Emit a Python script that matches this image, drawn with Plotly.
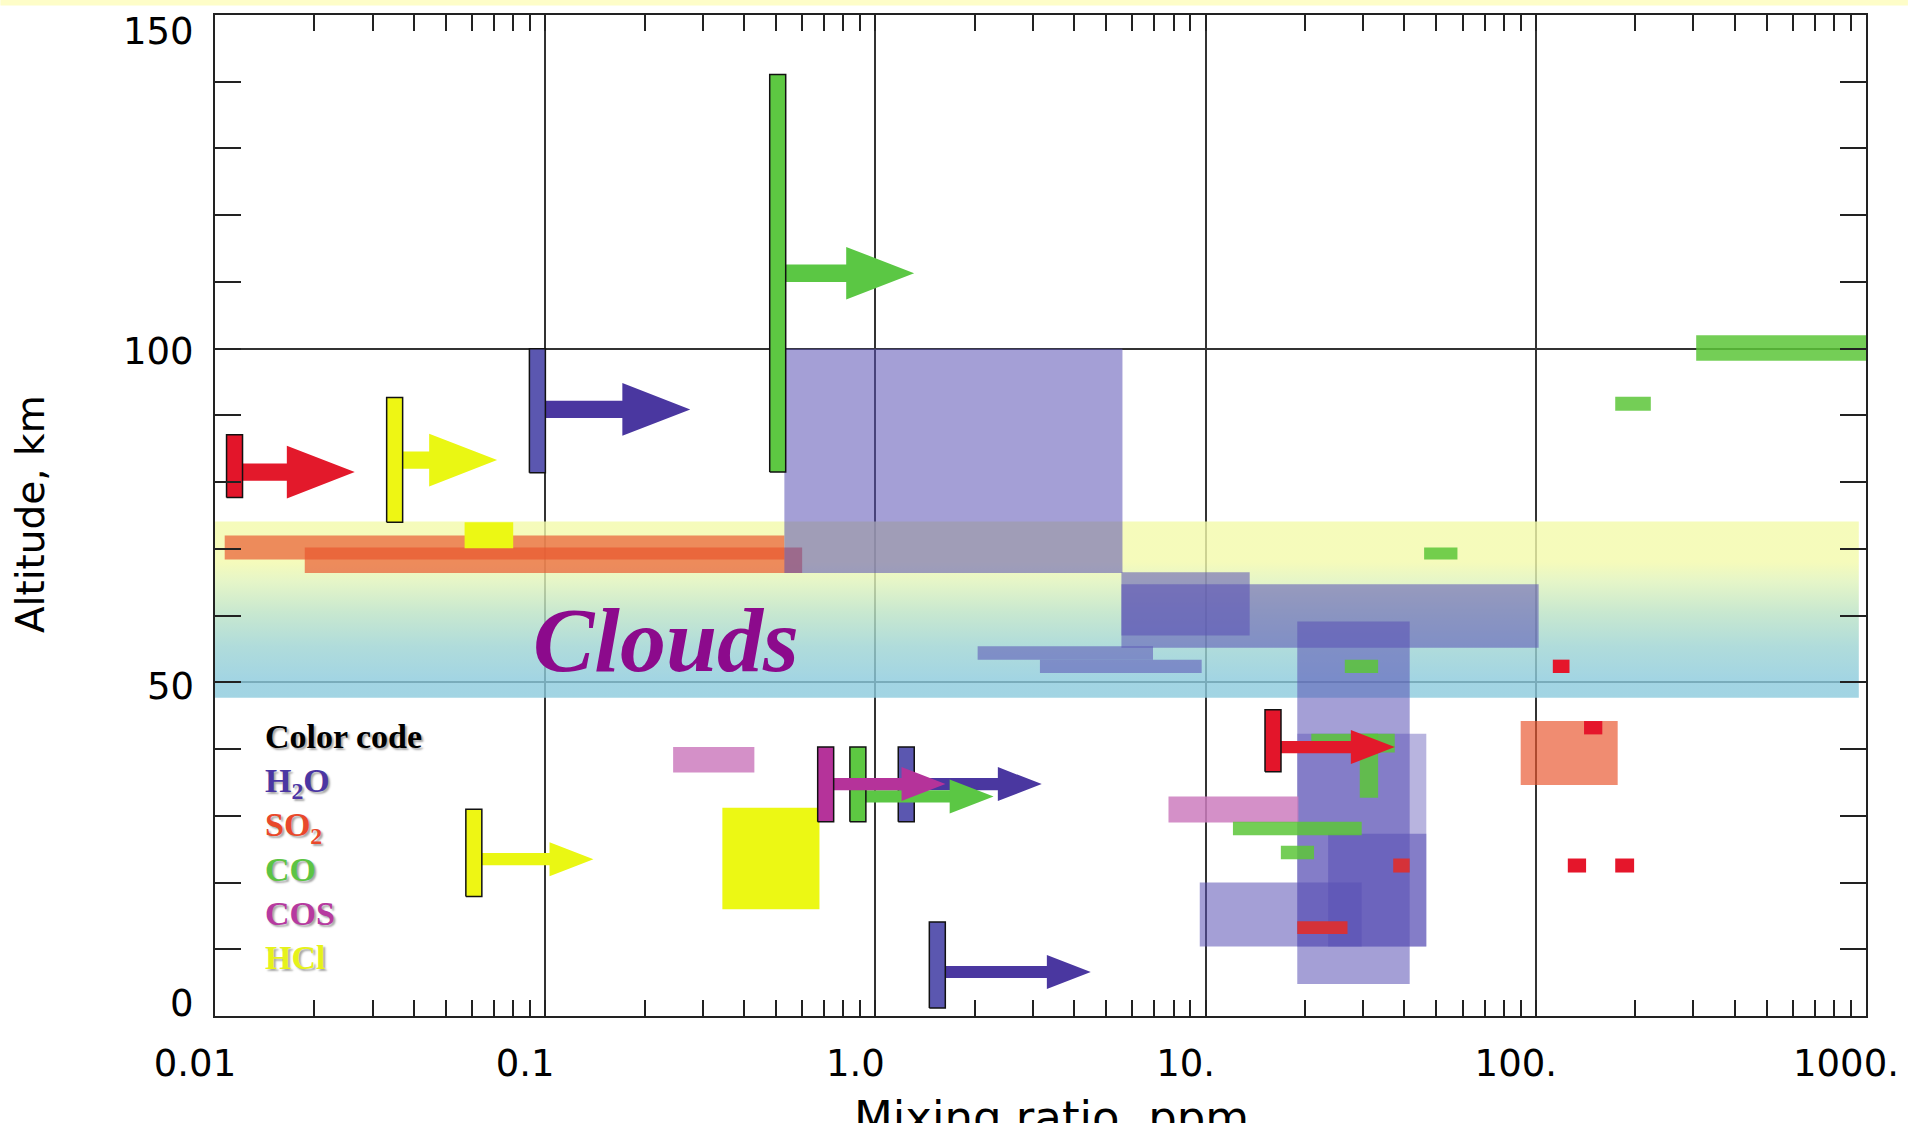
import math
import plotly.graph_objects as go

# ---------------- DATA ----------------
# Measured ranges drawn as boxes: species, mixing ratio range (ppm), altitude range (km)
box_species = ["SO2", "SO2", "HCl",
               "H2O", "H2O", "H2O", "H2O", "H2O",
               "H2O", "H2O_faint", "H2O", "H2O",
               "SO2", "COS", "COS", "HCl",
               "CO", "CO", "CO", "CO", "CO", "CO", "CO", "CO",
               "SO2_pt", "SO2_pt", "SO2_pt", "SO2_pt", "SO2_pt_dark", "SO2_pt_dark"]
box_x_min = [0.0107, 0.0187, 0.057,
             0.53, 5.56, 5.56, 2.04, 3.15,
             18.95, 18.95, 23.5, 9.6,
             90, 0.244, 7.72, 0.344,
             306, 174, 45.9, 26.4, 20.9, 29.3, 12.1, 16.9,
             112.6, 140, 125, 174, 37.0, 18.95]
box_x_max = [0.53, 0.60, 0.080,
             5.6, 13.6, 102, 6.93, 9.73,
             41.5, 46.6, 46.6, 29.7,
             177, 0.43, 19.1, 0.677,
             1050, 223, 57.9, 33.3, 37.4, 33.3, 29.7, 21.3,
             126.5, 159, 142, 198.5, 41.5, 26.9]
box_z_min = [68.4, 66.4, 70.1,
             66.4, 57.0, 55.2, 53.4, 51.4,
             4.8, 10.4, 10.4, 10.4,
             34.6, 36.5, 29.0, 16.0,
             98.2, 90.7, 68.4, 51.4, 39.5, 32.7, 27.1, 23.5,
             51.4, 42.2, 21.5, 21.5, 21.5, 12.3]
box_z_max = [72.0, 70.2, 74.0,
             100.0, 66.5, 64.7, 55.4, 53.4,
             59.1, 42.3, 27.3, 20.0,
             44.2, 40.3, 32.9, 31.2,
             102.0, 92.8, 70.2, 53.4, 42.3, 42.3, 29.1, 25.5,
             53.4, 44.2, 23.6, 23.6, 23.6, 14.2]

# Lower limits: bar over an altitude range, arrow pointing to larger mixing ratios
lim_species = ["SO2", "HCl", "H2O", "CO", "HCl", "H2O", "CO", "COS", "H2O", "SO2"]
lim_x = [0.01146, 0.035, 0.0947, 0.506, 0.0608, 1.24, 0.885, 0.707, 1.54, 16.0]
lim_z_min = [77.7, 74.0, 81.4, 81.5, 17.9, 29.1, 29.1, 29.1, 1.2, 36.6]
lim_z_max = [87.1, 92.7, 100.0, 141.1, 31.0, 40.3, 40.3, 40.3, 14.1, 45.9]
lim_z_arrow = [81.5, 83.3, 90.9, 111.3, 23.5, 34.75, 32.9, 34.75, 6.6, 40.3]
lim_x_arrow = [0.0265, 0.0715, 0.275, 1.31, 0.140, 3.19, 2.28, 1.63, 4.49, 37.4]

# Cloud layer
cloud_x = [0.0096, 951.0]
cloud_z = [47.7, 74.1]

# Axis ticks
x_tick_vals = [0.01, 0.1, 1.0, 10.0, 100.0, 1000.0]
x_tick_text = ["0.01", "0.1", "1.0", "10.", "100.", "1000."]
y_tick_vals = [0, 50, 100, 150]
y_tick_text = ["0", "50", "100", "150"]

legend_species = ["H2O", "SO2", "CO", "COS", "HCl"]
legend_labels = ["H<sub>2</sub>O", "SO<sub>2</sub>", "CO", "COS", "HCl"]

# ---------------- STYLE ----------------
box_fill = {"SO2": "rgba(233,85,45,0.68)", "HCl": "#ECF814",
            "H2O": "rgba(90,80,180,0.55)", "H2O_faint": "rgba(90,80,180,0.43)",
            "CO": "rgba(92,198,56,0.85)", "COS": "rgba(204,124,190,0.85)",
            "SO2_pt": "#E5162B", "SO2_pt_dark": "#D53239"}
bar_fill = {"SO2": "#E3152A", "HCl": "#EEF614", "H2O": "#5B57B0",
            "CO": "#5DC842", "COS": "#B5339A"}
arrow_fill = {"SO2": "#E3192B", "HCl": "#EAF713", "H2O": "#4A37A0",
              "CO": "#5BC744", "COS": "#B5339A"}
legend_color = {"H2O": "#4B36A3", "SO2": "#E9482B", "CO": "#5CC444",
                "COS": "#B63AA0", "HCl": "#E6F21A"}
lim_size = ["big", "big", "big", "big", "small", "small", "small", "small", "small", "small"]
arrow_geom = {"big": dict(head=0.2057, head_half=3.95, shaft_half=1.3),
              "small": dict(head=0.133, head_half=2.55, shaft_half=0.91)}
bar_half_dec = 0.0242
y_label_shift = [13, -4, -3, -16]

fig = go.Figure()


def add_poly(xs, ys, color, line_color=None, line_width=0):
    fig.add_trace(go.Scatter(
        x=xs, y=ys, mode="lines", fill="toself", fillcolor=color,
        line=dict(color=line_color if line_color else "rgba(0,0,0,0)", width=line_width),
        hoverinfo="skip", showlegend=False))


# cloud band with vertical gradient
fig.add_trace(go.Scatter(
    x=[cloud_x[0], cloud_x[1], cloud_x[1], cloud_x[0], cloud_x[0]],
    y=[cloud_z[0], cloud_z[0], cloud_z[1], cloud_z[1], cloud_z[0]],
    mode="lines", fill="toself", line=dict(width=0, color="rgba(0,0,0,0)"),
    fillgradient=dict(type="vertical", start=cloud_z[0], stop=cloud_z[1],
                      colorscale=[[0.0, "#8BCADC"], [0.1, "#8BCADC"], [0.29, "#9CD3D2"],
                                  [0.48, "#BAE2C4"], [0.66, "#DFF3BA"], [0.77, "#F3FAAA"],
                                  [1.0, "#F3FAAA"]]),
    opacity=0.8, hoverinfo="skip", showlegend=False))

# boxes
for sp, x0, x1, z0, z1 in zip(box_species, box_x_min, box_x_max, box_z_min, box_z_max):
    add_poly([x0, x1, x1, x0, x0], [z0, z0, z1, z1, z0], box_fill[sp])

# lower limits (arrow then bar)
for sp, xb, z0, z1, za, xt, sz in zip(lim_species, lim_x, lim_z_min, lim_z_max,
                                      lim_z_arrow, lim_x_arrow, lim_size):
    g = arrow_geom[sz]
    lb = math.log10(xb)
    lt = math.log10(xt)
    lh = lt - g["head"]
    pts = [(lb, za - g["shaft_half"]), (lh, za - g["shaft_half"]), (lh, za - g["head_half"]),
           (lt, za), (lh, za + g["head_half"]), (lh, za + g["shaft_half"]),
           (lb, za + g["shaft_half"]), (lb, za - g["shaft_half"])]
    add_poly([10 ** p[0] for p in pts], [p[1] for p in pts], arrow_fill[sp])
    bx0 = 10 ** (lb - bar_half_dec)
    bx1 = 10 ** (lb + bar_half_dec)
    add_poly([bx0, bx1, bx1, bx0, bx0], [z0, z0, z1, z1, z0], bar_fill[sp],
             line_color="#111111", line_width=1.5)

# ---------------- LAYOUT ----------------
L, R, T, B = 215, 42, 15, 106.5
W, H = 1911, 1123
pw, ph = W - L - R, H - T - B


def px_x(px):
    return (px - L) / pw


def px_y(py):
    return (H - B - py) / ph


minor_x = [m * 10 ** e for e in range(-2, 3) for m in range(2, 10)]

annotations = []
for v, t, s in zip(y_tick_vals, y_tick_text, y_label_shift):
    annotations.append(dict(x=px_x(196), xref="paper", xanchor="right", y=v, yref="y",
                            yanchor="middle", yshift=s, text=t, showarrow=False,
                            font=dict(family="DejaVu Sans", size=37, color="black")))

annotations.append(dict(x=px_x(30), xref="paper", xanchor="center", y=px_y(514), yref="paper",
                        yanchor="middle", text="Altitude, km", textangle=-90, showarrow=False,
                        font=dict(family="DejaVu Sans", size=39, color="black")))
annotations.append(dict(x=px_x(1053), xref="paper", xanchor="center", y=px_y(1090), yref="paper",
                        yanchor="top", text="Mixing ratio, ppm", showarrow=False,
                        font=dict(family="DejaVu Sans", size=45, color="black")))
annotations.append(dict(x=px_x(667), xref="paper", xanchor="center", y=px_y(640), yref="paper",
                        yanchor="middle", text="Clouds", showarrow=False,
                        font=dict(family="Liberation Serif", size=92, color="#8C0A8C",
                                  weight="bold", style="italic")))

legend_text = "Color code" + "".join(
    "<br><span style='color:%s'>%s</span>" % (legend_color[s], lab)
    for s, lab in zip(legend_species, legend_labels))
annotations.append(dict(x=px_x(263), xref="paper", xanchor="left", y=px_y(716), yref="paper",
                        yanchor="top", align="left", text=legend_text, showarrow=False,
                        font=dict(family="Liberation Serif", size=34, color="black",
                                  weight="bold", shadow="2px 2px 2px rgba(0,0,0,0.35)")))

fig.update_layout(
    width=W, height=H,
    margin=dict(l=L, r=R, t=T, b=B, pad=0),
    paper_bgcolor="white", plot_bgcolor="white",
    xaxis=dict(type="log", range=[-2, 3], tickmode="array", tickvals=x_tick_vals,
               ticktext=x_tick_text, ticks="inside", ticklen=16, tickwidth=1.5,
               tickcolor="#222", showline=True, linecolor="#222", linewidth=2,
               mirror="ticks", showgrid=True, gridcolor="#333", gridwidth=1.6,
               zeroline=False, ticklabelshift=-20, ticklabelstandoff=14,
               tickfont=dict(family="DejaVu Sans", size=37, color="black"),
               minor=dict(tickmode="array", tickvals=minor_x, ticks="inside", ticklen=16,
                          tickwidth=1.5, tickcolor="#222", showgrid=False)),
    yaxis=dict(range=[0, 150], tickmode="array", tickvals=y_tick_vals, showticklabels=False,
               ticks="inside", ticklen=26, tickwidth=1.5, tickcolor="#222",
               showline=True, linecolor="#222", linewidth=2, mirror="ticks",
               showgrid=True, gridcolor="#333", gridwidth=1.6, zeroline=False,
               minor=dict(dtick=10, ticks="inside", ticklen=26, tickwidth=1.5,
                          tickcolor="#222", showgrid=False)),
    annotations=annotations,
    shapes=[dict(type="rect", xref="paper", yref="paper", x0=px_x(0), x1=px_x(W),
                 y0=px_y(5.5), y1=px_y(0), fillcolor="#FEFDC8", line=dict(width=0),
                 layer="below")],
)

fig.write_html("out.html", config={"displayModeBar": False},
               post_script="document.body.style.margin='0';")
